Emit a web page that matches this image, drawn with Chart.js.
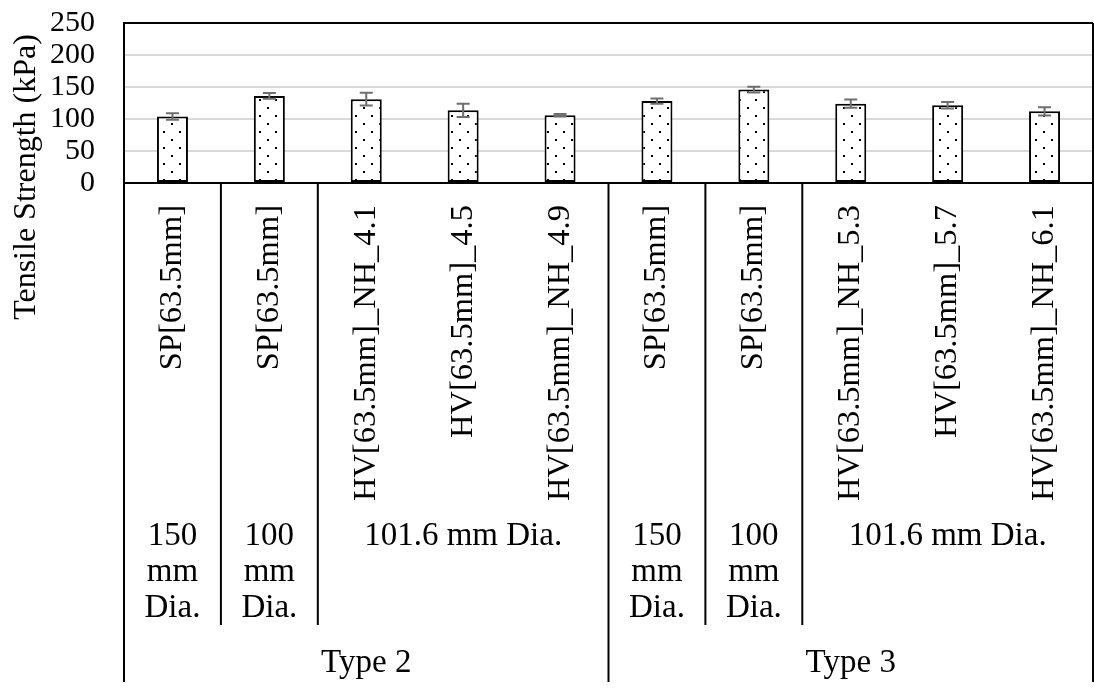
<!DOCTYPE html>
<html>
<head>
<meta charset="utf-8">
<script src="https://cdn.jsdelivr.net/npm/chart.js@4/dist/chart.umd.min.js"></script>
<style>
  html, body { margin: 0; padding: 0; background: #fff; }
  #wrap { width: 1094px; height: 688px; }
</style>
</head>
<body>
<div id="wrap"><canvas id="c" width="1094" height="688"></canvas></div>
<script>
// Specimen labels (first level of the category axis)
const categories = [
  'SP[63.5mm]', 'SP[63.5mm]', 'HV[63.5mm]_NH_4.1', 'HV[63.5mm]_4.5', 'HV[63.5mm]_NH_4.9',
  'SP[63.5mm]', 'SP[63.5mm]', 'HV[63.5mm]_NH_5.3', 'HV[63.5mm]_5.7', 'HV[63.5mm]_NH_6.1'
];
// Mean tensile strength (kPa) and its ± spread
const tensileStrength = [104, 136, 131, 113.5, 106, 128, 146, 124, 121.5, 112];
const errorMargin = [5, 4.5, 10, 10.5, 2, 4, 4.5, 6.5, 5, 6.5];

// Second level: specimen diameter, with the number of bars each covers
const diameterLabels = [['150', 'mm', 'Dia.'], ['100', 'mm', 'Dia.'], ['101.6 mm Dia.'],
                        ['150', 'mm', 'Dia.'], ['100', 'mm', 'Dia.'], ['101.6 mm Dia.']];
const diameterSpans = [1, 1, 3, 1, 1, 3];

// Third level: mixture type
const typeLabels = ['Type 2', 'Type 3'];
const typeSpans = [5, 5];

// Value axis ticks
const yTicks = [0, 50, 100, 150, 200, 250];

const SERIF = "'Liberation Serif', 'Times New Roman', serif";

// Dotted fill for the bars
function dotPattern() {
  const t = document.createElement('canvas');
  t.width = 16; t.height = 16;
  const g = t.getContext('2d');
  g.fillStyle = '#fff';
  g.fillRect(0, 0, 16, 16);
  g.fillStyle = '#000';
  g.fillRect(3, 3, 2, 2);
  g.fillRect(11, 11, 2, 2);
  return g.createPattern(t, 'repeat');
}
const ctx0 = document.getElementById('c').getContext('2d');

// Vertical error bars with caps
const errorBars = {
  id: 'errorBars',
  afterDatasetsDraw(chart) {
    const { ctx, scales: { y } } = chart;
    const meta = chart.getDatasetMeta(0);
    ctx.save();
    ctx.strokeStyle = '#6f6f6f';
    ctx.lineWidth = 2;
    meta.data.forEach((bar, i) => {
      const v = tensileStrength[i], e = errorMargin[i];
      const yt = y.getPixelForValue(v + e), yb = y.getPixelForValue(v - e);
      const x = bar.x, cap = 6.5;
      ctx.beginPath();
      ctx.moveTo(x, yt); ctx.lineTo(x, yb);
      ctx.moveTo(x - cap, yt); ctx.lineTo(x + cap, yt);
      ctx.moveTo(x - cap, yb); ctx.lineTo(x + cap, yb);
      ctx.stroke();
    });
    ctx.restore();
  }
};

// Plot frame, multi-level category axis and value-axis title
const categoryAxis = {
  id: 'categoryAxis',
  afterDraw(chart) {
    const { ctx, chartArea: a, scales: { x } } = chart;
    const step = x.getPixelForValue(1) - x.getPixelForValue(0);
    const edge = i => x.getPixelForValue(i) - step / 2;
    const midLineEnd = 625, outerLineEnd = 682;

    ctx.save();
    ctx.strokeStyle = '#000';
    ctx.lineWidth = 2;
    ctx.beginPath();
    // frame
    ctx.moveTo(a.left, a.top); ctx.lineTo(a.right, a.top);
    ctx.moveTo(a.left, a.bottom); ctx.lineTo(a.right, a.bottom);
    ctx.moveTo(a.left, a.top); ctx.lineTo(a.left, outerLineEnd);
    ctx.moveTo(a.right, a.top); ctx.lineTo(a.right, outerLineEnd);
    // type dividers
    const typeEnds = [];
    let k = 0;
    typeSpans.forEach(s => { k += s; typeEnds.push(k); });
    typeEnds.slice(0, -1).forEach(e => {
      ctx.moveTo(edge(e), a.bottom); ctx.lineTo(edge(e), outerLineEnd);
    });
    // diameter dividers
    k = 0;
    diameterSpans.forEach(s => {
      k += s;
      if (!typeEnds.includes(k)) {
        ctx.moveTo(edge(k), a.bottom); ctx.lineTo(edge(k), midLineEnd);
      }
    });
    ctx.stroke();

    ctx.fillStyle = '#000';
    // rotated specimen labels
    ctx.font = '32.5px ' + SERIF;
    ctx.textAlign = 'right';
    ctx.textBaseline = 'middle';
    categories.forEach((lab, i) => {
      ctx.save();
      ctx.translate(x.getPixelForValue(i), a.bottom + 22);
      ctx.rotate(-Math.PI / 2);
      ctx.fillText(lab, 0, 0);
      ctx.restore();
    });

    // diameter labels
    ctx.font = '33px ' + SERIF;
    ctx.textAlign = 'center';
    ctx.textBaseline = 'alphabetic';
    k = 0;
    diameterSpans.forEach((s, j) => {
      const cx = (edge(k) + edge(k + s)) / 2;
      diameterLabels[j].forEach((line, n) => ctx.fillText(line, cx, 545 + n * 36));
      k += s;
    });

    // type labels
    k = 0;
    typeSpans.forEach((s, j) => {
      const cx = (edge(k) + edge(k + s)) / 2;
      ctx.fillText(typeLabels[j], cx, 672);
      k += s;
    });

    // value-axis title
    ctx.font = '32px ' + SERIF;
    ctx.textBaseline = 'middle';
    ctx.translate(27, 177);
    ctx.rotate(-Math.PI / 2);
    ctx.fillText('Tensile Strength (kPa)', 0, 0);
    ctx.restore();
  }
};

new Chart(ctx0, {
  type: 'bar',
  data: {
    labels: categories,
    datasets: [{
      data: tensileStrength,
      backgroundColor: dotPattern(),
      borderColor: '#000',
      borderWidth: 2,
      borderSkipped: false,
      categoryPercentage: 1,
      barPercentage: 0.32
    }]
  },
  options: {
    responsive: false,
    devicePixelRatio: 1,
    animation: false,
    layout: { padding: { top: 23, right: 1, bottom: 505, left: 0 } },
    plugins: { legend: { display: false }, tooltip: { enabled: false } },
    scales: {
      x: { display: false },
      y: {
        min: yTicks[0],
        max: yTicks[yTicks.length - 1],
        afterBuildTicks: s => { s.ticks = yTicks.map(v => ({ value: v })); },
        afterFit: s => { s.width = 124; s.paddingTop = 0; s.paddingBottom = 0; },
        ticks: { font: { family: SERIF, size: 30 }, color: '#000', padding: 29, autoSkip: false },
        grid: { color: '#d9d9d9', lineWidth: 2, drawTicks: false },
        border: { display: true, color: '#000', width: 2 }
      }
    }
  },
  plugins: [errorBars, categoryAxis]
});
</script>
</body>
</html>
